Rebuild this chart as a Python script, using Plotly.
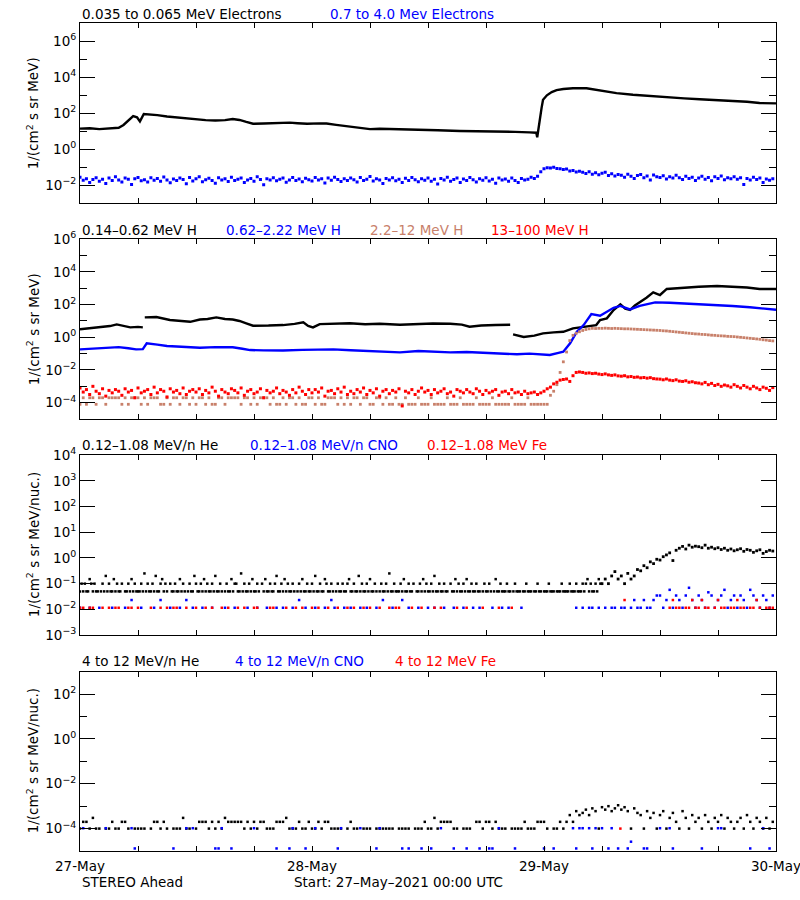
import plotly.graph_objects as go
from plotly.subplots import make_subplots

# ---------------- time grids (hours since 27-May-2021 00:00 UTC) ----------------
t20 = [i / 3 for i in range(216)]            # 20-minute samples, 27-May .. 30-May
t10_pre = [i / 6 for i in range(324)]        # 10-minute samples, 0 .. 54 h
t20_late = [54 + i / 3 for i in range(54)]   # 20-minute samples, 54 .. 72 h

day_labels = ["27-May", "28-May", "29-May", "30-May"]

# ---------------- Panel 1 : electrons (log10 flux) ----------------
e_lo_t = [0, 1, 2, 3, 4, 4.5, 5, 5.5, 5.9, 6.2, 6.6, 7, 8, 9, 10, 11, 12, 13, 14, 15,
          15.8, 16.5, 17.2, 17.9, 19, 20, 21, 21.7, 22.5, 23.5, 24.8, 25.5, 26.5, 27.9,
          29, 30, 31, 32, 33, 35, 37, 39.3, 41, 43.4, 45, 46.5, 47.2, 47.3, 47.45, 47.6,
          47.75, 47.9, 48.3, 48.8, 49.3, 50, 51, 52.4, 53.8, 55.5, 57.2, 59, 60.7, 62.5,
          64.1, 66, 67.6, 69, 70.3, 72]
e_lo_log = [1.15, 1.17, 1.12, 1.14, 1.2, 1.35, 1.6, 1.85, 1.78, 1.55, 1.96, 1.95, 1.9, 1.82,
            1.76, 1.7, 1.64, 1.62, 1.6, 1.62, 1.68, 1.63, 1.52, 1.42, 1.43, 1.45, 1.47, 1.48,
            1.45, 1.42, 1.44, 1.43, 1.36, 1.28, 1.2, 1.12, 1.14, 1.13, 1.13, 1.1, 1.06, 1.02,
            1.01, 1.0, 0.97, 0.94, 0.92, 0.67, 1.3, 1.75, 2.3, 2.75, 3.0, 3.18, 3.29, 3.35,
            3.39, 3.39, 3.25, 3.12, 3.03, 2.95, 2.89, 2.83, 2.78, 2.74, 2.7, 2.64, 2.57, 2.55]

e_hi_log = [
    -1.55, -1.72, -1.63, -1.85, -1.68, -1.58, -1.77, -1.66, -1.9, -1.6, -1.74, -1.52,
    -1.7, -1.82, -1.6, -1.67, -1.95, -1.64, -1.56, -1.75, -1.69, -1.81, -1.58, -1.72,
    -1.62, -1.78, -1.54, -1.7, -1.86, -1.65, -1.73, -1.6, -1.68, -1.92, -1.57, -1.76,
    -1.64, -1.52, -1.8, -1.69, -1.61, -1.74, -1.88, -1.58, -1.7, -1.63, -1.79, -1.55,
    -1.73, -1.66, -1.59, -1.84, -1.7, -1.62, -1.77, -1.53, -1.68, -1.97, -1.64, -1.71,
    -1.58, -1.75, -1.67, -1.6, -1.83, -1.7, -1.56, -1.74, -1.65, -1.8, -1.61, -1.69,
    -1.76, -1.57, -1.7, -1.64, -1.87, -1.6, -1.72, -1.55, -1.68, -1.79, -1.63, -1.74,
    -1.6, -1.69, -1.82, -1.57, -1.73, -1.66, -1.51, -1.76, -1.64, -1.71, -1.9, -1.62,
    -1.7, -1.58, -1.75, -1.67, -1.85, -1.61, -1.73, -1.56, -1.69, -1.8, -1.64, -1.72,
    -1.59, -1.77, -1.66, -1.93, -1.62, -1.71, -1.55, -1.78, -1.68, -1.6, -1.84, -1.65,
    -1.74, -1.57, -1.69, -1.81, -1.63, -1.72, -1.58, -1.76, -1.67, -1.88, -1.6, -1.7,
    -1.65, -1.78, -1.59, -1.73, -1.84, -1.62, -1.7, -1.66, -1.55, -1.62, -1.5, -1.25,
    -1.08, -1.02, -1.04, -1.0, -1.06, -1.08, -1.12, -1.1, -1.2, -1.18, -1.26, -1.22,
    -1.28, -1.34, -1.25, -1.38, -1.3, -1.42, -1.33, -1.27, -1.45, -1.36, -1.48, -1.4,
    -1.44, -1.55, -1.38, -1.5, -1.62, -1.46, -1.4, -1.58, -1.49, -1.7, -1.43, -1.52,
    -1.56, -1.47, -1.65, -1.52, -1.6, -1.44, -1.58, -1.68, -1.5, -1.62, -1.55, -1.73,
    -1.6, -1.5, -1.66, -1.57, -1.75, -1.53, -1.62, -1.48, -1.69, -1.58, -1.64, -1.52,
    -1.66, -1.58, -1.95, -1.62, -1.7, -1.55, -1.68, -1.6, -1.85, -1.65, -1.72, -1.63]

# ---------------- Panel 2 : protons (log10 flux) ----------------
p_lo_t = [0, 1.5, 3.1, 3.8, 4.5, 5.2, 6.0, 6.5, None, 6.7, 7.9, 9.3, 10.5, 11.4, 12.4, 13.2,
          14.1, 15, 15.8, 16.5, 17.2, 17.9, 19.5, 21, 22.2, 23.1, 23.6, 24.1, 24.8, 26, 27.9,
          29.5, 31, 33.1, 35, 36.5, 38.3, 39.5, 40.3, 41.5, 43, 44.5, None, 44.8, 45.9, 47,
          47.9, 49, 50, 51, 52, 53.4, 53.8, 54.5, 55.2, 55.9, 56.4, 56.9, 57.4, 57.9, 58.6,
          59.3, 60, 60.7, 61.5, 62.4, 64, 65.9, 67.6, 69, 70.3, 72]
p_lo_log = [0.49, 0.6, 0.69, 0.79, 0.72, 0.61, 0.64, 0.61, None, 1.22, 1.24, 1.06, 1.0, 0.95,
            1.09, 1.12, 1.22, 1.12, 1.09, 1.0, 0.86, 0.71, 0.72, 0.75, 0.82, 0.92, 0.7, 0.61,
            0.81, 0.83, 0.86, 0.8, 0.83, 0.77, 0.8, 0.85, 0.83, 0.78, 0.65, 0.72, 0.75, 0.77,
            None, 0.18, 0.02, 0.1, 0.24, 0.3, 0.34, 0.55, 0.62, 0.75, 1.06, 1.16, 1.67, 2.02,
            1.75, 1.67, 1.95, 2.14, 2.42, 2.75, 2.59, 2.96, 3.0, 3.04, 3.1, 3.14, 3.1, 3.05,
            2.96, 2.96]

p_mid_t = [0, 1, 2, 3.1, 4, 5, 5.8, 6.5, 6.9, 8, 9, 10.5, 12.4, 14, 15.8, 16.8, 17.6, 19, 21,
           23, 24.5, 26.2, 28, 29.6, 31, 33.1, 35, 36.5, 38.3, 40, 42, 44, 45.2, 46.5, 47.5,
           48.6, 49.5, 50, 50.7, 51.4, 52.1, 52.9, 53.8, 54.5, 55.2, 55.9, 56.9, 57.9, 59.5,
           61, 62.4, 64, 65.9, 67.5, 69.3, 70.5, 72]
p_mid_log = [-0.74, -0.7, -0.66, -0.61, -0.6, -0.67, -0.74, -0.72, -0.37, -0.45, -0.53, -0.58,
             -0.64, -0.6, -0.61, -0.7, -0.78, -0.8, -0.81, -0.77, -0.74, -0.74, -0.79, -0.82,
             -0.86, -0.92, -0.84, -0.87, -0.92, -0.9, -0.95, -0.97, -1.04, -1.0, -1.05, -1.08,
             -0.95, -0.88, -0.37, 0.34, 0.75, 1.42, 1.32, 1.57, 1.81, 1.92, 1.71, 1.93, 2.14,
             2.12, 2.08, 2.04, 1.98, 1.92, 1.84, 1.78, 1.69]

p_hi_log = [
    -4.1, -3.7, -4.1, -3.7, -3.7, -4.1, -3.7, -3.7, -4.1, -3.7, -3.7, -3.7,
    -3.7, -4.1, -3.7, -4.1, -3.7, -3.7, -3.7, -4.1, -3.7, -4.1, -3.7, -3.7,
    -3.7, -4.1, -4.1, -3.7, -4.1, -3.7, -3.7, -4.1, -3.7, -3.7, -4.1, -3.7,
    -4.1, -3.7, -3.7, -4.1, -3.7, -4.1, -4.1, -3.7, -3.7, -4.1, -3.7, -3.7,
    -3.7, -3.7, -4.1, -3.7, -3.7, -4.1, -3.7, -4.1, -3.7, -3.7, -3.7, -4.1,
    -3.7, -4.1, -4.1, -3.7, -4.1, -3.7, -3.7, -4.1, -3.7, -4.1, -4.1, -3.7,
    -3.7, -4.1, -3.7, -4.1, -4.1, -3.7, -3.7, -3.7, -4.1, -3.7, -4.1, -3.7,
    -4.1, -3.7, -3.7, -4.1, -3.7, -3.7, -4.1, -4.1, -3.7, -3.7, -4.1, -3.7,
    -4.1, -4.1, -3.7, -4.1, -4.1, -3.7, -4.1, -4.1, -4.1, -3.7, -4.1, -4.1,
    -4.1, -3.7, -4.1, -4.1, -4.1, -4.1, -3.7, -4.1, -4.1, -4.1, -3.7, -4.1,
    -4.1, -4.1, -4.1, -3.7, -4.1, -4.1, -4.1, -4.1, -3.7, -4.1, -4.1, -4.1,
    -4.1, -4.1, -3.7, -4.1, -4.1, -4.1, -4.1, -3.7, -4.1, -4.1, -4.1, -4.1,
    -4.1, -4.1, -3.55, -3.3, -2.9, -2.15, -1.5, -0.9, -0.2, 0.12, 0.25, 0.34,
    0.42, 0.48, 0.52, 0.55, 0.54, 0.55, 0.55, 0.56, 0.55, 0.54, 0.55, 0.54,
    0.53, 0.52, 0.52, 0.51, 0.5, 0.49, 0.48, 0.47, 0.46, 0.45, 0.44, 0.43,
    0.42, 0.4, 0.39, 0.37, 0.35, 0.33, 0.31, 0.29, 0.27, 0.25, 0.23, 0.21,
    0.2, 0.18, 0.17, 0.15, 0.13, 0.12, 0.1, 0.09, 0.08, 0.06, 0.05, 0.04,
    0.02, 0.0, -0.02, -0.04, -0.06, -0.08, -0.1, -0.12, -0.15, -0.17, -0.2, -0.22]

p_vhi_log = [
    -3.1, -3.35, -3.2, -3.5, -3.0, -3.3, -3.45, -3.15, -3.6, -3.25, -3.4, -3.2,
    -3.3, -3.55, -3.15, -3.35, -3.25, -3.7, -3.1, -3.4, -3.3, -3.2, -3.5, -3.05,
    -3.4, -3.2, -3.3, -3.65, -3.15, -3.35, -3.25, -3.45, -3.1, -3.5, -3.3, -3.2,
    -3.35, -3.15, -3.5, -3.25, -3.4, -3.05, -3.3, -3.6, -3.2, -3.35, -3.45, -3.15,
    -3.25, -3.4, -3.1, -3.55, -3.3, -3.2, -3.45, -3.35, -3.15, -3.7, -3.25, -3.4,
    -3.3, -3.1, -3.45, -3.25, -3.35, -3.55, -3.2, -3.4, -3.05, -3.3, -3.5, -3.2,
    -3.4, -3.2, -3.35, -3.1, -3.6, -3.3, -3.25, -3.45, -3.15, -3.35, -3.05, -3.5,
    -3.3, -3.45, -3.2, -3.35, -3.1, -3.5, -3.25, -3.4, -3.15, -3.6, -3.3, -3.2,
    -3.45, -3.25, -3.35, -3.15, -4.2, -3.3, -3.4, -3.2, -3.5, -3.3, -3.1, -3.35,
    -3.25, -3.5, -3.2, -3.4, -3.3, -3.15, -3.45, -3.35, -3.6, -3.2, -3.3, -3.4,
    -3.2, -3.35, -3.45, -3.15, -3.3, -3.5, -3.25, -3.4, -3.3, -3.2, -3.55, -3.35,
    -3.3, -3.45, -3.2, -3.4, -3.35, -3.5, -3.3, -3.45, -3.4, -3.35, -3.5, -3.4,
    -3.3, -3.15, -3.05, -2.85, -2.75, -2.62, -2.58, -2.55, -2.7, -2.35, -2.15, -2.12,
    -2.15, -2.2, -2.18, -2.22, -2.2, -2.25, -2.28, -2.24, -2.3, -2.33, -2.3, -2.36,
    -2.38, -2.35, -2.42, -2.4, -2.45, -2.43, -2.48, -2.46, -2.5, -2.47, -2.53, -2.55,
    -2.56, -2.6, -2.55, -2.62, -2.65, -2.6, -2.68, -2.7, -2.66, -2.75, -2.72, -2.78,
    -2.8, -2.85, -2.76, -2.9, -2.82, -2.95, -2.88, -3.0, -2.92, -2.97, -3.05, -2.9,
    -3.0, -3.1, -2.95, -3.05, -3.15, -3.0, -3.1, -3.2, -3.05, -3.12, -3.25, -3.08]

# ---------------- Panel 3 : 0.12-1.08 MeV/n heavy ions ----------------
he_unit = 0.05          # flux of one count
he_counts_pre = [
    1, 2, 1, 2, 1, 1, 3, 2, 1, 2, 1, 1, 0, 1, 2, 1, 4, 1,
    2, 1, 1, 3, 1, 2, 1, 1, 2, 0, 1, 1, 2, 1, 3, 1, 2, 1,
    1, 1, 2, 1, 5, 1, 2, 1, 1, 2, 1, 4, 1, 1, 2, 3, 1, 2,
    1, 0, 2, 1, 1, 2, 1, 1, 3, 1, 2, 1, 0, 1, 2, 1, 1, 4,
    2, 1, 1, 2, 1, 3, 1, 2, 1, 1, 2, 1, 4, 1, 1, 2, 1, 0,
    1, 2, 1, 1, 3, 1, 2, 2, 1, 1, 5, 1, 2, 1, 1, 2, 1, 3,
    1, 1, 2, 1, 0, 2, 1, 3, 1, 1, 2, 1, 1, 2, 4, 1, 1, 2,
    1, 3, 1, 2, 1, 1, 2, 1, 0, 1, 2, 1, 3, 1, 1, 2, 1, 1,
    2, 1, 4, 1, 1, 2, 1, 1, 3, 2, 1, 1, 2, 1, 0, 1, 2, 1,
    1, 2, 1, 1, 2, 3, 1, 1, 2, 1, 1, 4, 1, 2, 1, 1, 2, 1,
    3, 1, 1, 2, 1, 0, 1, 2, 1, 1, 2, 1, 5, 1, 1, 2, 1, 1,
    1, 2, 1, 3, 1, 1, 2, 1, 1, 2, 0, 1, 1, 2, 1, 3, 1, 2,
    1, 1, 2, 1, 4, 1, 1, 2, 1, 1, 2, 1, 1, 0, 2, 1, 1, 3,
    1, 2, 1, 1, 2, 1, 3, 1, 1, 2, 1, 1, 2, 1, 1, 0, 1, 2,
    1, 1, 2, 1, 0, 1, 3, 1, 1, 2, 1, 1, 1, 2, 1, 1, 0, 1,
    2, 1, 1, 1, 0, 1, 1, 2, 1, 1, 1, 0, 1, 1, 2, 1, 1, 0,
    1, 1, 1, 2, 1, 1, 1, 0, 1, 1, 1, 2, 1, 1, 1, 1, 2, 1,
    1, 1, 2, 1, 1, 1, 2, 1, 2, 3, 1, 2, 1, 1, 2, 1, 3, 2]
he_late_log = [
    -1.0, -0.82, -1.0, -0.7, -0.53, -0.82,
    -0.7, -1.0, -0.6, -0.82, -0.7, -0.45,
    -0.5, -0.3, -0.38, -0.15, -0.22, -0.05,
    -0.08, 0.05, 0.12, 0.2, -0.1, 0.3,
    0.38, 0.45, 0.35, 0.5, 0.42, 0.46,
    0.44, 0.4, 0.5, 0.38, 0.42, 0.36,
    0.4, 0.33, 0.38, 0.3, 0.35, 0.28,
    0.32, 0.36, 0.26, 0.33, 0.3, 0.22,
    0.28, 0.32, 0.18, 0.25, 0.3, 0.27]

ion_unit = 0.0115       # flux of one count (CNO, Fe)
cno_counts = [
    1, 0, 0, 1, 0, 0, 1, 0, 0, 0, 1, 0,
    0, 0, 1, 0, 2, 0, 0, 1, 0, 0, 0, 1,
    0, 2, 0, 0, 1, 0, 0, 1, 0, 2, 0, 1,
    0, 0, 1, 0, 0, 1, 0, 0, 0, 1, 0, 0,
    1, 0, 0, 0, 1, 0, 0, 1, 0, 0, 1, 0,
    0, 1, 0, 1, 0, 0, 1, 0, 2, 0, 1, 0,
    0, 1, 0, 0, 1, 0, 2, 1, 0, 0, 1, 0,
    1, 0, 0, 1, 0, 1, 0, 0, 1, 0, 2, 0,
    0, 1, 0, 0, 2, 0, 1, 0, 0, 1, 0, 0,
    1, 0, 1, 0, 0, 1, 0, 0, 1, 0, 0, 1,
    0, 0, 1, 0, 1, 0, 0, 0, 1, 0, 0, 1,
    0, 1, 0, 0, 0, 1, 0, 0, 0, 0, 0, 0,
    0, 0, 0, 0, 0, 0, 0, 0, 0, 0, 1, 0,
    1, 0, 1, 1, 0, 1, 0, 1, 0, 1, 1, 0,
    1, 1, 0, 1, 2, 1, 1, 2, 1, 1, 2, 3,
    3, 1, 2, 5, 1, 3, 2, 1, 3, 6, 2, 1,
    3, 2, 1, 4, 3, 1, 2, 3, 5, 1, 2, 3,
    1, 3, 2, 1, 5, 3, 2, 1, 3, 2, 1, 3]
fe_counts = [
    1, 1, 0, 1, 1, 0, 0, 1, 0, 1, 0, 1,
    1, 0, 0, 1, 1, 0, 1, 0, 0, 0, 1, 0,
    0, 1, 0, 1, 0, 1, 1, 0, 0, 1, 0, 0,
    1, 0, 0, 1, 0, 1, 0, 0, 1, 0, 1, 0,
    0, 1, 0, 1, 0, 0, 1, 1, 0, 0, 0, 1,
    1, 0, 0, 0, 1, 0, 0, 1, 0, 1, 0, 0,
    1, 0, 1, 0, 0, 1, 0, 0, 1, 0, 0, 1,
    0, 1, 0, 0, 1, 0, 1, 0, 0, 1, 0, 0,
    1, 0, 1, 1, 0, 0, 0, 1, 0, 0, 1, 0,
    0, 0, 1, 0, 1, 0, 0, 0, 0, 1, 0, 0,
    1, 0, 0, 0, 0, 1, 0, 0, 0, 0, 1, 0,
    0, 0, 1, 0, 0, 0, 0, 0, 0, 0, 0, 0,
    0, 0, 0, 0, 0, 0, 0, 0, 0, 0, 0, 0,
    0, 0, 0, 0, 0, 0, 0, 0, 0, 0, 0, 0,
    0, 2, 0, 0, 0, 0, 0, 0, 0, 0, 0, 0,
    0, 0, 0, 1, 2, 1, 1, 0, 1, 1, 2, 1,
    1, 2, 1, 1, 0, 1, 2, 1, 1, 0, 1, 1,
    2, 1, 1, 0, 1, 1, 2, 1, 0, 1, 1, 1]

# ---------------- Panel 4 : 4-12 MeV/n heavy ions ----------------
he4_unit = 1e-4
he4_counts = [
    1, 2, 2, 1, 3, 1, 1, 0, 1, 1, 2, 1,
    1, 2, 2, 1, 0, 1, 1, 1, 1, 0, 1, 2,
    2, 1, 2, 1, 0, 1, 1, 1, 3, 1, 1, 0,
    1, 2, 2, 2, 1, 2, 1, 2, 1, 3, 2, 2,
    2, 2, 2, 1, 2, 1, 2, 1, 2, 2, 1, 1,
    1, 2, 2, 2, 3, 1, 1, 1, 2, 1, 1, 2,
    1, 1, 2, 1, 2, 2, 1, 1, 1, 1, 0, 1,
    2, 1, 1, 0, 1, 1, 1, 0, 1, 1, 1, 1,
    1, 1, 0, 1, 1, 1, 1, 0, 1, 1, 1, 2,
    1, 1, 3, 1, 2, 2, 2, 2, 1, 1, 0, 1,
    1, 1, 0, 2, 2, 1, 2, 2, 1, 2, 1, 1,
    1, 0, 1, 1, 1, 1, 2, 1, 1, 1, 2, 2,
    2, 1, 0, 1, 1, 2, 1, 2, 4, 2, 6, 4,
    5, 7, 4, 8, 6, 1, 9, 7, 10, 6, 8, 11,
    7, 9, 6, 1, 8, 5, 4, 1, 6, 3, 5, 1,
    4, 6, 1, 3, 5, 2, 1, 6, 3, 1, 4, 2,
    3, 1, 4, 2, 1, 3, 2, 4, 1, 3, 2, 1,
    2, 3, 1, 4, 2, 1, 3, 2, 1, 3, 1, 2]
cno4_unit = 1.3e-5
cno4_counts = [
    0, 8, 0, 0, 0, 0, 0, 0, 8, 0, 0, 0,
    0, 0, 0, 0, 8, 1, 0, 0, 0, 0, 0, 0,
    0, 0, 0, 0, 0, 1, 0, 0, 0, 8, 0, 8,
    0, 0, 0, 0, 0, 0, 1, 1, 8, 0, 0, 1,
    0, 0, 0, 0, 0, 0, 8, 0, 0, 0, 0, 0,
    0, 1, 0, 0, 0, 1, 8, 0, 0, 0, 1, 0,
    0, 8, 0, 0, 0, 0, 0, 0, 1, 8, 0, 0,
    0, 0, 0, 8, 0, 0, 0, 0, 1, 8, 0, 0,
    0, 0, 0, 0, 1, 0, 1, 0, 0, 0, 1, 0,
    0, 1, 0, 0, 8, 0, 0, 0, 1, 0, 0, 0,
    1, 0, 0, 0, 1, 0, 0, 1, 1, 0, 8, 0,
    0, 0, 0, 1, 0, 0, 0, 0, 0, 0, 0, 0,
    1, 0, 0, 1, 0, 0, 0, 0, 0, 8, 1, 8,
    8, 0, 8, 1, 8, 0, 8, 0, 1, 8, 0, 1,
    0, 0, 1, 2, 0, 0, 0, 1, 1, 0, 0, 0,
    8, 0, 0, 8, 1, 0, 0, 0, 0, 0, 0, 0,
    0, 1, 0, 0, 0, 0, 8, 8, 0, 0, 0, 0,
    0, 0, 0, 0, 1, 0, 0, 0, 8, 0, 1, 0]
fe4_t = [55.9]
fe4_flux = [1e-4]

# ---------------- helpers ----------------
def from_log(vals):
    return [None if v is None else 10 ** v for v in vals]

def from_counts(counts, unit):
    return [c * unit if c else None for c in counts]

BLACK, BLUE, BROWN, RED = "#000000", "#0000FF", "#C8806A", "#FF0000"
FONT = "DejaVu Sans"
FS = 13.5

fig = make_subplots(rows=4, cols=1)

def dots(x, y, color, row, size=2.5):
    fig.add_trace(go.Scatter(x=x, y=y, mode="markers",
                             marker=dict(symbol="square", size=size, color=color, line=dict(width=0)),
                             showlegend=False, hoverinfo="skip"), row=row, col=1)

def curve(x, y, color, row, width=2.4):
    fig.add_trace(go.Scatter(x=x, y=y, mode="lines", line=dict(color=color, width=width),
                             connectgaps=False, showlegend=False, hoverinfo="skip"), row=row, col=1)

# panel 1
curve(e_lo_t, from_log(e_lo_log), BLACK, 1)
dots(t20, from_log(e_hi_log), BLUE, 1, size=3)
# panel 2
curve(p_lo_t, from_log(p_lo_log), BLACK, 2)
curve(p_mid_t, from_log(p_mid_log), BLUE, 2)
dots(t20, from_log(p_hi_log), BROWN, 2, size=2.8)
dots(t20, from_log(p_vhi_log), RED, 2, size=3)
# panel 3
dots(t10_pre, from_counts(he_counts_pre, he_unit), BLACK, 3)
dots(t20_late, from_log(he_late_log), BLACK, 3, size=2.8)
dots(t20, from_counts(cno_counts, ion_unit), BLUE, 3)
dots(t20, from_counts(fe_counts, ion_unit), RED, 3)
# panel 4
dots(t20, from_counts(he4_counts, he4_unit), BLACK, 4)
dots(t20, from_counts(cno4_counts, cno4_unit), BLUE, 4)
dots(fe4_t, fe4_flux, RED, 4)

# ---------------- axes ----------------
W, H = 800, 900
x0, x1 = 80, 776
panels_px = [(23.3, 203.3), (239.3, 419.0), (455.3, 635.0), (671.7, 851.0)]

def pdom(top, bot):
    return [1 - bot / H, 1 - top / H]

def sup(e):
    return "10<sup>%s</sup>" % (str(e).replace("-", "\u2212"))

y_specs = [
    dict(rng=[-3, 7], major=[-2, 0, 2, 4, 6], minor=[-1, 1, 3, 5]),
    dict(rng=[-5, 6], major=[-4, -2, 0, 2, 4, 6], minor=[-3, -1, 1, 3, 5]),
    dict(rng=[-3, 4], major=[-3, -2, -1, 0, 1, 2, 3, 4], minor=[]),
    dict(rng=[-5, 3], major=[-4, -2, 0, 2], minor=[-3, -1, 1]),
]

hour_ticks = list(range(0, 73, 6))
tick_text = [day_labels[h // 24] if h % 24 == 0 else "" for h in hour_ticks]

for i, ((top, bot), ys) in enumerate(zip(panels_px, y_specs)):
    n = "" if i == 0 else str(i + 1)
    fig.layout["xaxis" + n].update(
        domain=[x0 / W, x1 / W], range=[0, 72], tickmode="array", tickvals=hour_ticks,
        ticktext=tick_text, showticklabels=(i == 3), ticks="inside", ticklen=5,
        tickcolor="black", tickwidth=1, showline=True, linecolor="black", linewidth=1,
        mirror="ticks", showgrid=False, zeroline=False, automargin=False,
        ticklabelstandoff=3, ticklabeloverflow="allow",
        tickfont=dict(family=FONT, size=FS, color="black"))
    yax = dict(
        domain=pdom(top, bot), type="log", range=ys["rng"], tickmode="array",
        tickvals=[10.0 ** e for e in ys["major"]], ticktext=[sup(e) for e in ys["major"]],
        ticks="inside", ticklen=15, tickcolor="black", tickwidth=1,
        showline=True, linecolor="black", linewidth=1, mirror="ticks",
        showgrid=False, zeroline=False, automargin=False,
        tickfont=dict(family=FONT, size=FS, color="black"))
    if ys["minor"]:
        yax["minor"] = dict(tickmode="array", tickvals=[10.0 ** e for e in ys["minor"]],
                            ticks="inside", ticklen=7, tickcolor="black", tickwidth=1,
                            showgrid=False)
    fig.layout["yaxis" + n].update(**yax)

# ---------------- text ----------------
ann = []
def label(text, xpx, ypx, color="black", xanchor="left", angle=0):
    ann.append(dict(text=text, x=xpx / W, y=1 - ypx / H, xref="paper", yref="paper",
                    xanchor=xanchor, yanchor="middle", showarrow=False, textangle=angle,
                    font=dict(family=FONT, size=FS, color=color)))

titles = [
    [("0.035 to 0.065 MeV Electrons", 80, BLACK), ("0.7 to 4.0 Mev Electrons", 328, BLUE)],
    [("0.14-0.62 MeV H", 80, BLACK), ("0.62-2.22 MeV H", 224, BLUE),
     ("2.2-12 MeV H", 368, BROWN), ("13-100 MeV H", 489, RED)],
    [("0.12-1.08 MeV/n He", 80, BLACK), ("0.12-1.08 MeV/n CNO", 248, BLUE),
     ("0.12-1.08 MeV Fe", 425, RED)],
    [("4 to 12 MeV/n He", 80, BLACK), ("4 to 12 MeV/n CNO", 233, BLUE),
     ("4 to 12 MeV Fe", 393, RED)],
]
title_y = [14, 230, 445, 661]
for row, yy in zip(titles, title_y):
    for text, xx, col in row:
        label(text.replace("-", "\u2013"), xx, yy, col)

ytitles = ["1/(cm<sup>2</sup> s sr MeV)", "1/(cm<sup>2</sup> s sr MeV)",
           "1/(cm<sup>2</sup> s sr MeV/nuc.)", "1/(cm<sup>2</sup> s sr MeV/nuc.)"]
for (top, bot), t in zip(panels_px, ytitles):
    label(t, 33, (top + bot) / 2, xanchor="center", angle=-90)

label("STEREO Ahead", 80, 882)
label("Start: 27\u2013May\u20132021 00:00 UTC", 292, 882)

fig.update_layout(width=W, height=H, autosize=False, margin=dict(l=0, r=0, t=0, b=0, pad=0),
                  paper_bgcolor="white", plot_bgcolor="white", annotations=ann,
                  showlegend=False, font=dict(family=FONT, size=FS, color="black"))

fig.write_html("out.html", config={"displayModeBar": False},
               post_script="document.body.style.margin='0';document.body.style.overflow='hidden';")
